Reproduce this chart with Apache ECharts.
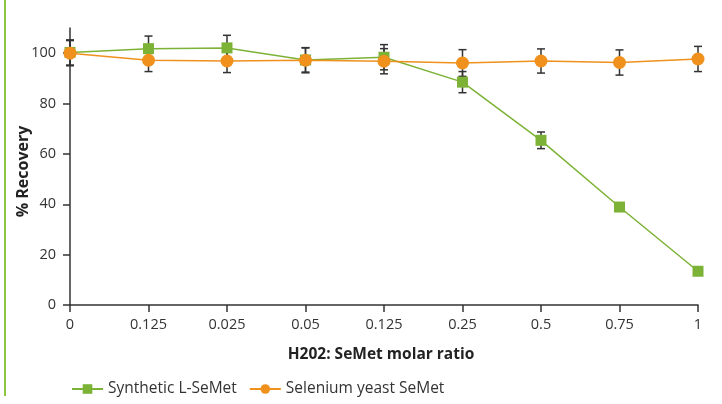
<!DOCTYPE html>
<html><head><meta charset="utf-8">
<script src="https://cdn.jsdelivr.net/npm/echarts@6/dist/echarts.min.js"></script>
<style>html,body{margin:0;padding:0;background:#fff}#c{width:722px;height:404px}</style>
</head><body><div id="c"></div>
<script>
var categories = ["0","0.125","0.025","0.05","0.125","0.25","0.5","0.75","1"];
var syntheticValues = [100.3, 101.8, 102.1, 97.3, 98.4, 88.5, 65.4, 38.9, 13.4];
var syntheticErrors = [5, 5, 5, 4.8, 5, 4.2, 3.3, 1.5, 0];
var yeastValues = [100.0, 97.2, 96.9, 97.2, 96.8, 96.1, 96.9, 96.3, 97.7];
var yeastErrors = [5, 4.5, 4.6, 5, 5, 5.3, 4.8, 5, 5];
var yTicks = [0, 20, 40, 60, 80, 100];

var green = '#7cb236', orange = '#f0911e';
var font = '"Open Sans", "Noto Sans", sans-serif';

function errorSeries(vals, errs) {
  return {
    type: 'custom', z: 1, silent: true,
    data: vals.map(function (v, i) { return [i, v - errs[i], v + errs[i]]; }),
    renderItem: function (params, api) {
      if (api.value(2) - api.value(1) < 0.01) return null;
      var lo = api.coord([api.value(0), api.value(1)]);
      var hi = api.coord([api.value(0), api.value(2)]);
      var w = 4;
      var st = { stroke: '#333', lineWidth: 1.5 };
      return { type: 'group', children: [
        { type: 'line', shape: { x1: lo[0], y1: lo[1], x2: hi[0], y2: hi[1] }, style: st },
        { type: 'line', shape: { x1: lo[0] - w, y1: lo[1], x2: lo[0] + w, y2: lo[1] }, style: st },
        { type: 'line', shape: { x1: hi[0] - w, y1: hi[1], x2: hi[0] + w, y2: hi[1] }, style: st }
      ]};
    }
  };
}

var chart = echarts.init(document.getElementById('c'), null, { renderer: 'canvas' });
chart.setOption({
  animation: false,
  textStyle: { fontFamily: font },
  grid: { left: 70, right: 24, top: 28, bottom: 99, containLabel: false, outerBoundsMode: 'none' },
  graphic: [{ type: 'rect', shape: { x: 4, y: 0, width: 2, height: 396 }, style: { fill: '#8dc63f' } }],
  legend: {
    left: 66, top: 376, itemWidth: 31, itemHeight: 12, itemGap: 12,
    textStyle: { fontFamily: font, fontSize: 15.5, color: '#333' },
    data: ['Synthetic L-SeMet', 'Selenium yeast SeMet']
  },
  xAxis: {
    type: 'category', data: categories, boundaryGap: false,
    name: 'H202: SeMet molar ratio', nameLocation: 'middle', nameGap: 42, nameMoveOverlap: false,
    nameTextStyle: { fontFamily: font, fontWeight: 'bold', fontSize: 15.5, color: '#222', padding: [0, 6, 0, 0] },
    axisLine: { lineStyle: { color: '#333', width: 1.5 } },
    axisTick: { show: true, length: 7, lineStyle: { color: '#333', width: 1.5 } },
    axisLabel: { fontFamily: font, fontSize: 14.5, color: '#333', margin: 12 },
    splitLine: { show: false }
  },
  yAxis: {
    type: 'value', min: 0, max: 110, interval: 20,
    name: '% Recovery', nameLocation: 'middle', nameGap: 39, nameMoveOverlap: false,
    nameTextStyle: { fontFamily: font, fontWeight: 'bold', fontSize: 16, color: '#222', padding: [0, 10, 0, 0] },
    axisLine: { show: true, lineStyle: { color: '#333', width: 1.5 } },
    axisTick: { show: true, length: 7, lineStyle: { color: '#333', width: 1.5 } },
    axisLabel: { fontFamily: font, fontSize: 14.5, color: '#333', margin: 14, showMaxLabel: false,
      formatter: function (v) { return yTicks.indexOf(v) >= 0 ? String(v) : ''; } },
    splitLine: { show: false }
  },
  series: [
    errorSeries(syntheticValues, syntheticErrors),
    errorSeries(yeastValues, yeastErrors),
    {
      name: 'Synthetic L-SeMet', type: 'line', data: syntheticValues, z: 3,
      symbol: 'rect', symbolSize: 11,
      lineStyle: { color: green, width: 1.5 },
      itemStyle: { color: green }
    },
    {
      name: 'Selenium yeast SeMet', type: 'line', data: yeastValues, z: 4,
      symbol: 'circle', symbolSize: 13,
      lineStyle: { color: orange, width: 1.5 },
      itemStyle: { color: orange }
    }
  ]
});
</script></body></html>
